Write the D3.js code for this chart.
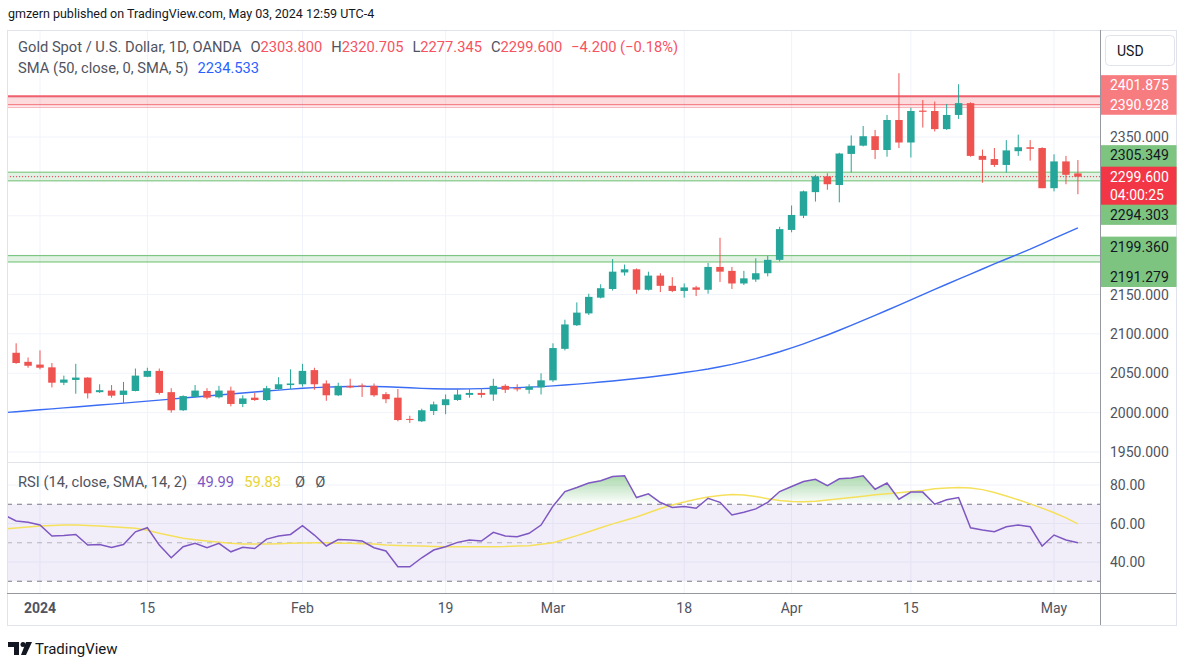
<!DOCTYPE html>
<html>
<head>
<meta charset="utf-8">
<script src="https://cdn.jsdelivr.net/npm/d3@7"></script>
<style>
  body { margin: 0; background: #fff; }
  svg { display: block; font-family: Roboto, "Liberation Sans", sans-serif; }
</style>
</head>
<body>
<svg id="chart" width="1182" height="661"></svg>
<script>
// ---- data ----
const dates = ["2023-12-27","2023-12-28","2023-12-29","2024-01-02","2024-01-03","2024-01-04","2024-01-05","2024-01-08","2024-01-09","2024-01-10","2024-01-11","2024-01-12","2024-01-15","2024-01-16","2024-01-17","2024-01-18","2024-01-19","2024-01-22","2024-01-23","2024-01-24","2024-01-25","2024-01-26","2024-01-29","2024-01-30","2024-01-31","2024-02-01","2024-02-02","2024-02-05","2024-02-06","2024-02-07","2024-02-08","2024-02-09","2024-02-12","2024-02-13","2024-02-14","2024-02-15","2024-02-16","2024-02-19","2024-02-20","2024-02-21","2024-02-22","2024-02-23","2024-02-26","2024-02-27","2024-02-28","2024-02-29","2024-03-01","2024-03-04","2024-03-05","2024-03-06","2024-03-07","2024-03-08","2024-03-11","2024-03-12","2024-03-13","2024-03-14","2024-03-15","2024-03-18","2024-03-19","2024-03-20","2024-03-21","2024-03-22","2024-03-25","2024-03-26","2024-03-27","2024-03-28","2024-04-01","2024-04-02","2024-04-03","2024-04-04","2024-04-05","2024-04-08","2024-04-09","2024-04-10","2024-04-11","2024-04-12","2024-04-15","2024-04-16","2024-04-17","2024-04-18","2024-04-19","2024-04-22","2024-04-23","2024-04-24","2024-04-25","2024-04-26","2024-04-29","2024-04-30","2024-05-01","2024-05-02","2024-05-03"];

const open = [2066,2076,2064.5,2061,2057.5,2038,2041.5,2044.5,2026,2028,
  2022.5,2027.5,2045.5,2053,2026,2003,2020,2027.5,2019.5,2028,
  2011,2019,2016,2030,2035,2036,2054,2037,2022,2034,
  2034.5,2034,2023.5,2019,1992,1989,2002,2009.5,2016,2022.5,
  2025,2023,2034,2031,2029,2032,2041,2081,2111,2126,
  2146,2157,2178,2182,2156,2174,2161,2154.5,2159,2156,
  2185,2180,2164,2169,2177,2194,2232,2250,2280,2300,
  2289,2328.5,2339,2351,2333.5,2371.6,2343,2383.5,2383,2360,
  2378,2393,2326,2322,2314.5,2332,2337,2336,2285,2319,2303.8];
const high = [2083,2088,2070,2079,2063,2047,2062,2045,2036,2035,
  2039,2056,2057,2056,2031,2022,2035,2031,2034,2033,
  2022,2025,2034,2045,2055,2062,2057,2041,2038,2043,
  2037,2037,2026,2030,1996,2005,2014,2023,2030,2030,
  2031,2043,2036,2036,2036,2050,2088,2118,2140,2151,
  2163,2195,2188,2183,2179,2177,2172,2164,2161,2190,
  2222,2185,2180,2196,2199,2236,2263,2282,2302,2304,
  2330,2352,2364,2359,2378,2431,2387,2397,2395,2392,
  2417,2394,2334,2336,2346,2353,2346,2337,2328,2326,2320.705];
const low = [2064,2062,2057,2055,2032,2035,2024,2018,2025,2019,
  2012,2027,2045,2023,2000,2002,2019,2017,2018,2008,
  2007,2015,2015,2029,2030,2033,2029,2015,2021,2031,
  2020,2020,2012,1989,1987,1988,1997,1998,2015,2019,
  2019,2015,2025,2027,2024,2023,2039,2079,2110,2124,
  2145,2155,2174,2151,2155,2153,2153,2146,2148,2151,
  2166,2157,2162,2166,2173,2192,2229,2247,2268,2283,
  2267,2305,2338,2322,2325,2336,2324,2362,2357,2359,
  2373,2325,2292,2312,2305,2326,2320,2285,2281,2290,2277.345];
const close = [2076,2063,2059.5,2057,2038,2042,2044.5,2024.5,2028.5,2021.5,
  2028,2047,2053,2025,2003,2021,2028,2019,2028,2011,
  2018,2016,2031,2036,2037,2053,2036,2022,2034,2032,
  2033,2022,2017,1990.6,1991,2003,2010.5,2017,2023,2025,
  2022.5,2034,2029,2029.6,2033,2041,2082,2112,2127,2147,
  2158,2179,2182,2156,2174,2161,2154.5,2159,2156,2185,
  2179,2164,2170.5,2177,2194,2233,2251,2281,2300,2290,
  2329,2339,2351,2333.5,2371.6,2343,2383,2382,2360,2378,
  2393,2326,2321,2314.5,2333,2337,2335,2285,2319,2302,2299.6];

// SMA 50
const sma = [2000,2001.2,2002.4,2003.6,2004.8,2006,2007.2,2008.4,2009.6,2010.8,
  2012,2013.3,2014.6,2015.9,2017.2,2018.5,2019.8,2021.1,2022.4,2023.7,
  2025,2026.2,2027.4,2028.6,2029.8,2031,2031.8,2032.4,2032.8,2033.1,
  2033.3,2033.2,2032.8,2032.2,2031.5,2030.8,2030.3,2030,2030,2030.2,
  2030.5,2030.9,2031.3,2031.8,2032.4,2033,2034,2035,2036.2,2037.4,
  2038.8,2040.2,2041.7,2043.3,2045,2046.9,2048.8,2050.9,2053,2055.4,
  2058.2,2061.3,2064.8,2068.6,2072.8,2077.3,2082.2,2087.4,2092.9,2098.6,
  2104.6,2110.8,2117.1,2123.5,2130,2136.6,2143.2,2149.8,2156.4,2163,
  2169.5,2176,2182.4,2188.8,2195.1,2201.3,2207.6,2214.4,2221.2,2228,2234.533];

// RSI 14 and its SMA 14
const rsi = [64.4,61.3,60.6,59.2,53.5,53.8,54.3,48.8,49.1,47.6,
  49.1,55.7,57.8,48.8,42.2,47.9,49.7,47.4,49.7,45.3,
  47.6,47,51.9,53.5,54.3,58.9,54,48.3,51.7,51.4,
  50.9,47.4,45.7,37.5,37.5,42.2,46.2,47.9,50.2,51.4,
  50.9,55.4,53.5,53.1,54.9,59.2,69,76.6,78.7,81,
  82.2,84.4,84.8,73.5,75.4,70.9,68.3,68.8,67.9,73.1,
  71,64.4,65.8,67.6,71,76.6,79.2,81.8,83,79.7,
  83.2,83.6,84.8,77.8,81,72.6,76.3,76.3,70,72.3,
  73.5,57.8,56.6,55.7,58.3,59.2,58.3,48.3,54,51.4,49.99];
const rsiMa = [57.1,57.6,58.2,58.7,59,59.2,59.2,59,58.7,58.3,
  57.9,57.5,56.5,54.9,53.6,52.3,51.6,50.9,50.3,49.7,
  49.3,49.3,49.4,49.5,49.7,49.9,50,50,49.8,49.7,
  49.5,49.3,48.8,48.6,48.4,48.3,48.1,47.9,47.9,47.9,
  47.9,47.9,48,48.3,48.5,49.2,50,51.8,53.7,55.7,
  57.8,59.8,61.6,63.4,65.6,67.8,69.6,71.2,72.6,73.8,
  74.6,75,74.8,74,72.9,71.9,71.4,71.3,71.6,72.2,
  72.8,73.5,74.2,74.9,75.5,76,76.6,77.2,78,78.5,
  78.7,78.5,77.6,76.1,74.3,72.3,70.2,68,65.6,62.9,59.83];

// horizontal zones drawn on the chart
const bandHigh = [2401.875, 2305.349, 2199.360];
const bandLow = [2390.928, 2294.303, 2191.279];
const lastPrice = 2299.600;
const countdown = "04:00:25";

const priceTicks = [1950, 2000, 2050, 2100, 2150, 2200, 2250, 2300, 2350, 2400];
const rsiTicks = [40, 60, 80];
const timeTickDates = ["2024-01-02","2024-01-15","2024-02-01","2024-02-19","2024-03-01","2024-03-18","2024-04-01","2024-04-15","2024-05-01"];
const timeTickLabels = ["2024","15","Feb","19","Mar","18","Apr","15","May"];

// ---- layout ----
const LEFT = 7, RIGHT = 1100.5, FRAME_R = 1176;
const TOP = 30, MAIN_B = 462, RSI_B = 593, BOTTOM = 625;
const tagShiftHigh = [-11, -17, -9];   // axis tags pushed apart like the app does
const tagShiftLow = [0, 34, 15];
const bandFill = ["rgba(242,54,69,0.18)", "rgba(76,175,80,0.16)", "rgba(76,175,80,0.16)"];
const bandStroke = ["#f0606c", "#6cbf70", "#6cbf70"];
const tagFill = ["#f77c80", "#7cc47f", "#7cc47f"];
const tagText = ["#ffffff", "#131722", "#131722"];
const UP = "#26a69a", DOWN = "#ef5350";
const TXT = "#50535e";
const LEG = 14.7;

const svg = d3.select("#chart");
svg.append("rect").attr("width", 1182).attr("height", 661).attr("fill", "#fff");

const x = d3.scalePoint().domain(dates).range([4.2, 4.2 + 90 * 11.93]);
const y = d3.scaleLinear().domain([1950, 2350]).range([452, 137]);
const yr = d3.scaleLinear().domain([30, 70]).range([581.25, 504.25]);

const defs = svg.append("defs");
defs.append("clipPath").attr("id", "clipMain").append("rect")
  .attr("x", LEFT).attr("y", TOP).attr("width", RIGHT - LEFT).attr("height", MAIN_B - TOP);
defs.append("clipPath").attr("id", "clipRsi").append("rect")
  .attr("x", LEFT).attr("y", MAIN_B).attr("width", RIGHT - LEFT).attr("height", RSI_B - MAIN_B);
defs.append("clipPath").attr("id", "clipOb").append("rect")
  .attr("x", LEFT).attr("y", MAIN_B).attr("width", RIGHT - LEFT).attr("height", yr(70) - MAIN_B);
const grad = defs.append("linearGradient").attr("id", "obGrad")
  .attr("gradientUnits", "userSpaceOnUse")
  .attr("x1", 0).attr("x2", 0).attr("y1", yr(100)).attr("y2", yr(70));
grad.append("stop").attr("offset", "0%").attr("stop-color", "#4caf50").attr("stop-opacity", 0.95);
grad.append("stop").attr("offset", "100%").attr("stop-color", "#4caf50").attr("stop-opacity", 0);

// ---- grid ----
const grid = svg.append("g");
grid.selectAll("line.v").data(timeTickDates).enter().append("line")
  .attr("x1", d => x(d)).attr("x2", d => x(d))
  .attr("y1", TOP).attr("y2", RSI_B)
  .attr("stroke", "#f0f3fa");
grid.append("g").attr("clip-path", "url(#clipMain)")
  .selectAll("line").data(priceTicks).enter().append("line")
  .attr("x1", LEFT).attr("x2", RIGHT)
  .attr("y1", d => y(d)).attr("y2", d => y(d))
  .attr("stroke", "#f0f3fa");
grid.selectAll("line.r").data(rsiTicks).enter().append("line")
  .attr("x1", LEFT).attr("x2", RIGHT)
  .attr("y1", d => yr(d)).attr("y2", d => yr(d))
  .attr("stroke", "#f0f3fa");

// ---- main pane ----
const main = svg.append("g").attr("clip-path", "url(#clipMain)");

// zones
bandHigh.forEach((hi, k) => {
  const lo = bandLow[k];
  main.append("rect")
    .attr("x", LEFT).attr("width", RIGHT - LEFT)
    .attr("y", y(hi)).attr("height", y(lo) - y(hi))
    .attr("fill", bandFill[k]);
  main.append("line").attr("x1", LEFT).attr("x2", RIGHT)
    .attr("y1", y(hi)).attr("y2", y(hi))
    .attr("stroke", bandStroke[k]).attr("stroke-width", k === 0 ? 2 : 1);
  main.append("line").attr("x1", LEFT).attr("x2", RIGHT)
    .attr("y1", y(lo)).attr("y2", y(lo))
    .attr("stroke", bandStroke[k]).attr("stroke-width", 1);
  if (k === 0) {
    main.append("line").attr("x1", LEFT).attr("x2", RIGHT)
      .attr("y1", y(lo) + 2.5).attr("y2", y(lo) + 2.5)
      .attr("stroke", bandStroke[k]).attr("stroke-opacity", 0.6);
  }
});

// last price line
main.append("line").attr("x1", LEFT).attr("x2", RIGHT)
  .attr("y1", y(lastPrice)).attr("y2", y(lastPrice))
  .attr("stroke", "#f23645").attr("stroke-dasharray", "1,2");

// SMA
main.append("path")
  .attr("d", d3.line().x((d, i) => x(dates[i])).y(d => y(d))(sma))
  .attr("fill", "none").attr("stroke", "#3a6cf4").attr("stroke-width", 1.4);

// candles
const candles = main.selectAll("g.c").data(dates).enter().append("g");
candles.append("line")
  .attr("x1", d => x(d)).attr("x2", d => x(d))
  .attr("y1", (d, i) => y(high[i])).attr("y2", (d, i) => y(low[i]))
  .attr("stroke", (d, i) => close[i] >= open[i] ? UP : DOWN);
candles.append("rect")
  .attr("x", d => x(d) - 3.75).attr("width", 7.5)
  .attr("y", (d, i) => y(Math.max(open[i], close[i])))
  .attr("height", (d, i) => Math.max(1, Math.abs(y(open[i]) - y(close[i]))))
  .attr("fill", (d, i) => close[i] >= open[i] ? UP : DOWN);

// ---- RSI pane ----
const rp = svg.append("g").attr("clip-path", "url(#clipRsi)");
rp.append("rect").attr("x", LEFT).attr("width", RIGHT - LEFT)
  .attr("y", yr(70)).attr("height", yr(30) - yr(70))
  .attr("fill", "rgba(126,87,194,0.1)");
[70, 50, 30].forEach(v => {
  rp.append("line").attr("x1", LEFT).attr("x2", RIGHT)
    .attr("y1", yr(v)).attr("y2", yr(v))
    .attr("stroke", "#787b86").attr("stroke-dasharray", "5,5")
    .attr("stroke-opacity", v === 50 ? 0.5 : 1);
});
rp.append("g").attr("clip-path", "url(#clipOb)").append("path")
  .attr("d", d3.area().x((d, i) => x(dates[i])).y0(yr(70)).y1(d => yr(d))(rsi))
  .attr("fill", "url(#obGrad)");
rp.append("path")
  .attr("d", d3.line().x((d, i) => x(dates[i])).y(d => yr(d))(rsiMa))
  .attr("fill", "none").attr("stroke", "#f5e05c").attr("stroke-width", 1.5);
rp.append("path")
  .attr("d", d3.line().x((d, i) => x(dates[i])).y(d => yr(d))(rsi))
  .attr("fill", "none").attr("stroke", "#7e57c2").attr("stroke-width", 1.5);

// ---- frame and separators ----
svg.append("rect").attr("x", LEFT + 0.5).attr("y", TOP + 0.5)
  .attr("width", FRAME_R - LEFT).attr("height", BOTTOM - TOP)
  .attr("fill", "none").attr("stroke", "#e0e3eb");
svg.append("line").attr("x1", LEFT).attr("x2", RIGHT)
  .attr("y1", MAIN_B + 0.5).attr("y2", MAIN_B + 0.5).attr("stroke", "#e0e3eb");
svg.append("line").attr("x1", LEFT).attr("x2", FRAME_R)
  .attr("y1", RSI_B + 0.5).attr("y2", RSI_B + 0.5).attr("stroke", "#9598a1");
svg.append("line").attr("x1", RIGHT).attr("x2", RIGHT)
  .attr("y1", TOP).attr("y2", BOTTOM).attr("stroke", "#9598a1");

// ---- price axis ----
const axis = svg.append("g").attr("font-size", 14);
const boxes = [];
bandHigh.forEach((hi, k) => {
  const ty1 = y(hi) + tagShiftHigh[k];
  const ty2 = y(bandLow[k]) + tagShiftLow[k];
  boxes.push([ty1 - 10, ty2 + 10]);
  axis.append("rect").attr("x", RIGHT + 0.5).attr("width", FRAME_R - RIGHT)
    .attr("y", ty1 - 10).attr("height", ty2 - ty1 + 20).attr("fill", tagFill[k]);
  [[hi, ty1], [bandLow[k], ty2]].forEach(([p, ty]) => {
    axis.append("text").attr("x", 1110).attr("y", ty + 5)
      .attr("fill", tagText[k]).text(d3.format(".3f")(p));
  });
});
const lpY = y(lastPrice);
boxes.push([lpY - 10, lpY + 28]);
axis.append("rect").attr("x", RIGHT + 0.5).attr("width", FRAME_R - RIGHT)
  .attr("y", lpY - 10).attr("height", 38).attr("fill", "#f23645");
axis.append("text").attr("x", 1110).attr("y", lpY + 5).attr("fill", "#fff")
  .text(d3.format(".3f")(lastPrice));
axis.append("text").attr("x", 1110).attr("y", lpY + 23).attr("fill", "#fff").text(countdown);

priceTicks.filter(p => !boxes.some(b => y(p) >= b[0] && y(p) <= b[1]))
  .forEach(p => {
    axis.append("text").attr("x", 1110).attr("y", y(p) + 5)
      .attr("fill", TXT).text(d3.format(".3f")(p));
  });
rsiTicks.forEach(v => {
  axis.append("text").attr("x", 1110).attr("y", yr(v) + 5)
    .attr("fill", TXT).text(d3.format(".2f")(v));
});

// currency button
axis.append("rect").attr("x", 1105.5).attr("y", 35.5).attr("width", 69).attr("height", 30)
  .attr("rx", 4).attr("fill", "#fff").attr("stroke", "#e0e3eb");
axis.append("text").attr("x", 1117).attr("y", 56).attr("fill", "#131722").text("USD");

// ---- time axis ----
svg.append("g").attr("font-size", 14)
  .selectAll("text").data(timeTickDates).enter().append("text")
  .attr("x", d => x(d)).attr("y", 613)
  .attr("text-anchor", "middle")
  .attr("fill", TXT)
  .attr("font-weight", (d, i) => i === 0 ? "bold" : "normal")
  .text((d, i) => timeTickLabels[i]);

// ---- texts ----
svg.append("text").attr("x", 8).attr("y", 18).attr("font-size", 12.5).attr("fill", "#131722")
  .text("gmzern published on TradingView.com, May 03, 2024 12:59 UTC-4");

const RED = "#f7525f";
const leg1 = svg.append("text").attr("x", 18).attr("y", 52).attr("font-size", LEG).attr("fill", TXT);
leg1.append("tspan").text("Gold Spot / U.S. Dollar, 1D, OANDA");
[["O", open[90].toFixed(3)], ["H", high[90].toFixed(3)], ["L", low[90].toFixed(3)], ["C", close[90].toFixed(3)]]
  .forEach(([k, v]) => {
    leg1.append("tspan").attr("dx", 9).text(k);
    leg1.append("tspan").attr("fill", RED).text(v);
  });
leg1.append("tspan").attr("dx", 9).attr("fill", RED).text("\u22124.200 (\u22120.18%)");

const leg2 = svg.append("text").attr("x", 18).attr("y", 73).attr("font-size", LEG).attr("fill", TXT);
leg2.append("tspan").text("SMA (50, close, 0, SMA, 5)");
leg2.append("tspan").attr("dx", 9).attr("fill", "#2962ff").text(sma[90].toFixed(3));

const leg3 = svg.append("text").attr("x", 18).attr("y", 487).attr("font-size", LEG).attr("fill", TXT);
leg3.append("tspan").text("RSI (14, close, SMA, 14, 2)");
leg3.append("tspan").attr("dx", 10).attr("fill", "#7e57c2").text(rsi[90].toFixed(2));
leg3.append("tspan").attr("dx", 10).attr("fill", "#e8d43a").text(rsiMa[90].toFixed(2));
leg3.append("tspan").attr("dx", 14).text("\u00d8");
leg3.append("tspan").attr("dx", 10).text("\u00d8");

// ---- TradingView logo ----
const logo = svg.append("g").attr("fill", "#131722");
logo.append("path").attr("d", "M8 642 h11 v13 h-5 v-8 h-6 z");
logo.append("circle").attr("cx", 23).attr("cy", 644.5).attr("r", 2.5);
logo.append("path").attr("d", "M26 642 h6 l-6 13 h-5 z");
svg.append("text").attr("x", 35).attr("y", 654).attr("font-size", 15).attr("fill", "#131722")
  .text("TradingView");
</script>
</body>
</html>
